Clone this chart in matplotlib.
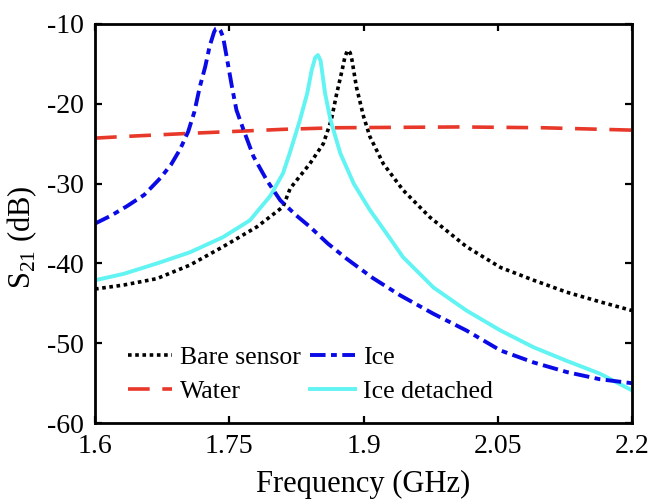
import matplotlib
matplotlib.use("Agg")
import matplotlib.pyplot as plt

# values (GHz, dB)
bare_f = [1.600, 1.632, 1.669, 1.706, 1.743, 1.781, 1.810, 1.818, 1.840, 1.855, 1.864, 1.870,
          1.876, 1.879, 1.882, 1.885, 1.887, 1.892, 1.900, 1.907, 1.922, 1.944, 1.974, 2.015,
          2.053, 2.090, 2.127, 2.164, 2.200]
bare_db = [-43.2, -42.7, -41.9, -40.2, -37.9, -35.4, -32.9, -30.6, -27.5, -25.0, -22.0, -18.7,
           -15.8, -14.2, -13.3, -13.6, -14.5, -17.9, -21.6, -24.1, -27.5, -30.8, -34.2, -37.9,
           -40.5, -42.1, -43.6, -44.8, -45.9]

water_f = [1.600, 1.632, 1.706, 1.810, 1.870, 2.008, 2.100, 2.200]
water_db = [-24.3, -24.1, -23.7, -23.2, -23.0, -22.9, -23.0, -23.3]

ice_f = [1.600, 1.618, 1.636, 1.655, 1.673, 1.685, 1.695, 1.704, 1.711, 1.717, 1.723, 1.728,
         1.733, 1.735, 1.738, 1.740, 1.743, 1.747, 1.753, 1.758, 1.766, 1.777, 1.792, 1.807,
         1.825, 1.840, 1.860, 1.881, 1.910, 1.941, 1.978, 2.015, 2.053, 2.090, 2.127, 2.164,
         2.200]
ice_db = [-35.0, -34.0, -32.8, -31.4, -29.3, -27.6, -25.7, -23.5, -21.0, -17.9, -15.4, -12.8,
          -11.0, -10.6, -10.5, -10.8, -11.6, -14.1, -17.9, -20.8, -23.3, -26.6, -29.6, -32.1,
          -34.0, -35.4, -37.5, -39.4, -41.8, -44.0, -46.3, -48.4, -50.9, -52.4, -53.6, -54.5,
          -55.0]

det_f = [1.600, 1.632, 1.669, 1.706, 1.743, 1.773, 1.796, 1.810, 1.818, 1.829, 1.837, 1.842,
         1.846, 1.849, 1.852, 1.857, 1.863, 1.874, 1.889, 1.907, 1.926, 1.944, 1.978, 2.015,
         2.053, 2.090, 2.127, 2.164, 2.200]
det_db = [-42.1, -41.3, -40.0, -38.6, -36.7, -34.6, -31.5, -28.7, -26.0, -22.0, -18.7, -15.8,
          -14.2, -13.9, -14.6, -18.7, -22.0, -26.2, -30.0, -33.3, -36.3, -39.2, -43.0, -45.9,
          -48.4, -50.5, -52.2, -53.8, -55.9]

xticks = [1.6, 1.75, 1.9, 2.05, 2.2]
xtick_labels = ["1.6", "1.75", "1.9", "2.05", "2.2"]
yticks = [-60, -50, -40, -30, -20, -10]

plt.rcParams["font.family"] = ["Liberation Serif", "DejaVu Serif"]
plt.rcParams["mathtext.fontset"] = "custom"
plt.rcParams["mathtext.rm"] = "Liberation Serif"
plt.rcParams["axes.unicode_minus"] = False

fig = plt.figure(figsize=(6.51, 4.99), dpi=100)
ax = fig.add_axes([0.146, 0.152, 0.825, 0.800])

ax.plot(bare_f, bare_db, color="black", lw=2.6, ls=(0, (1, 1)), label="Bare sensor")
ax.plot(water_f, water_db, color="#E8382A", lw=2.6, ls=(0, (6, 3.5)), label="Water")
ax.plot(det_f, det_db, color="#62F3F3", lw=2.8, ls="-", label="Ice detached")
ax.plot(ice_f, ice_db, color="#0A0AE6", lw=2.8, ls=(0, (4, 1.4, 1.5, 1.4)), label="Ice")

ax.set_xlim(1.6, 2.2)
ax.set_ylim(-60, -10)
ax.set_xticks(xticks)
ax.set_xticklabels(xtick_labels)
ax.set_yticks(yticks)
ax.tick_params(direction="in", length=5, width=1.6, labelsize=20, pad=8,
               top=True, right=True)
for s in ax.spines.values():
    s.set_linewidth(2.0)

ax.set_xlabel("Frequency (GHz)", fontsize=22, labelpad=8)
ax.set_ylabel(r"S$_{21}$ (dB)", fontsize=22)
ax.yaxis.set_label_coords(-0.105, 0.465)

h, l = ax.get_legend_handles_labels()
order = [0, 1, 3, 2]
ax.legend([h[i] for i in order], [l[i] for i in order], ncol=2, frameon=False,
          loc="lower left", bbox_to_anchor=(0.027, 0.005), fontsize=18.5,
          handlelength=1.75, handletextpad=0.3, columnspacing=0.35,
          labelspacing=0.42, borderpad=0.2)

fig.savefig("out.png", dpi=100)
